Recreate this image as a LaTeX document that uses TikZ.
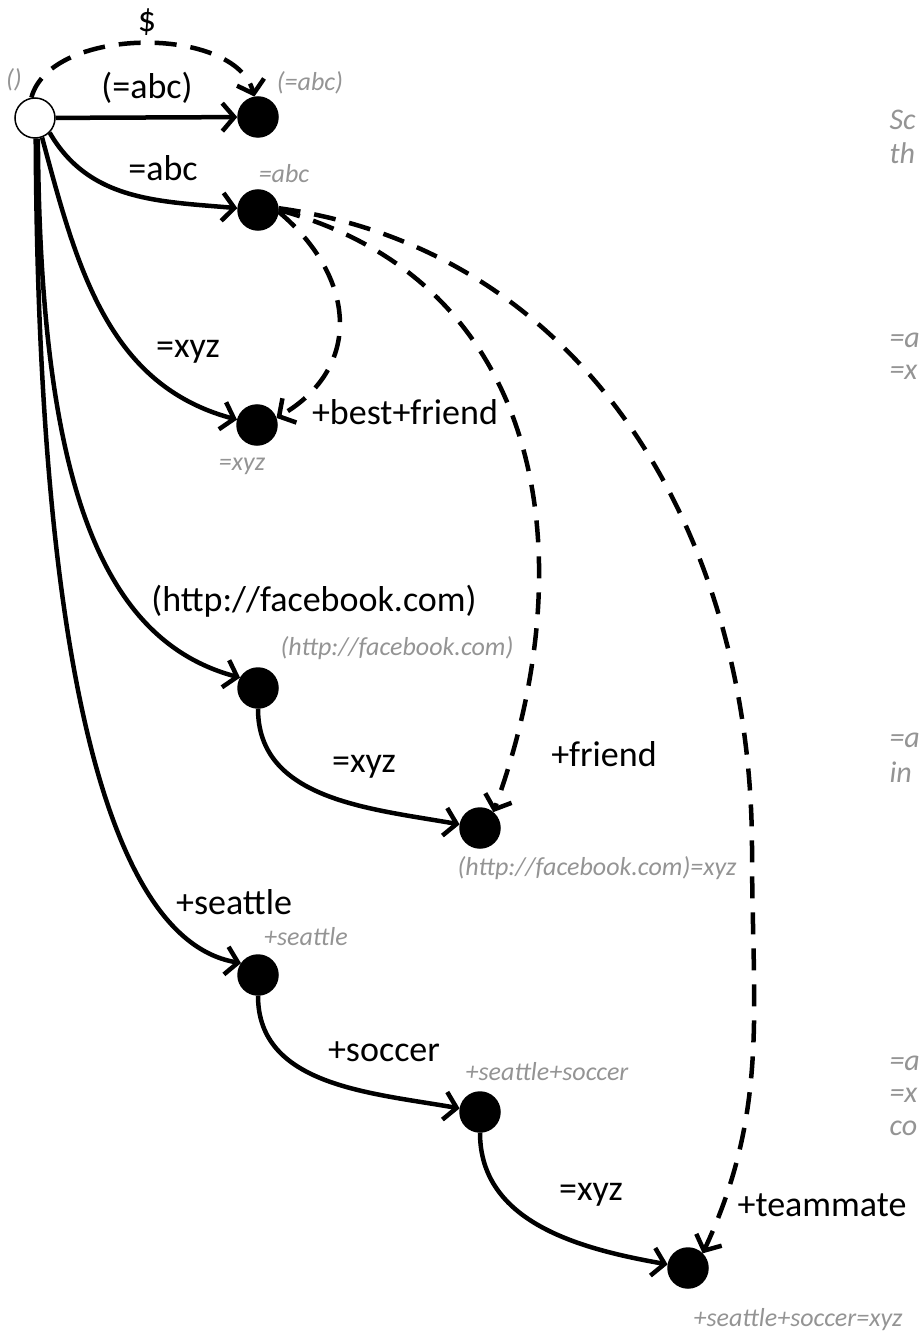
\documentclass[tikz,border=0pt]{standalone}
\usepackage{fontspec}
\setmainfont{Carlito}
\usetikzlibrary{arrows.meta}

\begin{document}
\begin{tikzpicture}[x=1pt, y=1pt,
        state/.style={circle, draw, line width=1.5pt, minimum size=40pt, inner sep=0pt, fill=white},
        full/.style={state, fill=black},
        edge/.style={line width=4.5pt, -{Straight Barb[length=12pt,width=28pt]}},
        link/.style={edge, dash pattern=on 22pt off 14pt},
        lbl/.style={font=\fontsize{36}{40}\selectfont},
        tag/.style={text=black!42, font=\fontsize{26}{30}\selectfont\itshape},
        note/.style={tag, anchor=west, font=\fontsize{30}{34}\selectfont\itshape}]
        \useasboundingbox (0,0) rectangle (922,-1337);

        % states
        \node[state] (root) at (35,-118) {};
        \node[full] (abcP) at (258,-117) {};
        \node[full] (abc) at (258,-210) {};
        \node[full] (xyz) at (257,-425) {};
        \node[full] (fb) at (258,-688) {};
        \node[full] (fbxyz) at (480,-828) {};
        \node[full] (sea) at (258,-975) {};
        \node[full] (seasoc) at (480,-1112) {};
        \node[full] (seasocxyz) at (688,-1268) {};
        \coordinate (bend) at (752,-850);

        % state names
        \node[tag] (tRoot) at (14,-80) {()};
        \node[tag] (tAbcP) at (310,-83) {(=abc)};
        \node[tag] (tAbc) at (284,-174) {=abc};
        \node[tag] (tXyz) at (242,-466) {=xyz};
        \node[tag] (tFb) at (397,-648) {(http://facebook.com)};
        \node[tag] (tFbxyz) at (597,-868) {(http://facebook.com)=xyz};
        \node[tag] (tSea) at (306,-937) {+seattle};
        \node[tag] (tSeasoc) at (547,-1072) {+seattle+soccer};
        \node[tag] (tSeasocxyz) at (798,-1320) {+seattle+soccer=xyz};

        % solid edges
        \draw[edge] (root) -- (abcP);
        \draw[edge] (root.-45) to[out=-60, in=175] (abc.175);
        \draw[edge] (root.-70) to[out=-75, in=165] (xyz.165);
        \draw[edge] (root.-82) .. controls (40,-480) and (100,-640) .. (fb.150);
        \draw[edge] (root.-88) .. controls (38,-650) and (105,-940) .. (sea.145);
        \draw[edge] (fb.-90) to[out=-90, in=170] (fbxyz.170);
        \draw[edge] (sea.-90) to[out=-90, in=170] (seasoc.170);
        \draw[edge] (seasoc.-90) to[out=-90, in=170] (seasocxyz.170);

        % dashed edges
        \draw[link] (root.100) to[out=75, in=105, looseness=0.85] (abcP.100);
        \draw[link] (abc.-5) to[out=-40, in=30, looseness=1.25] (xyz.20);
        \draw[link] (abc.0) to[out=-15, in=70, looseness=1.1] (fbxyz.50);
        \draw[link] (abc.5) to[out=-8, in=90] (bend) to[out=-90, in=65] (seasocxyz.45);

        % edge labels
        \node[lbl] (lDollar) at (147,-22) {\$};
        \node[lbl] (lAbcP) at (147,-88) {(=abc)};
        \node[lbl] (lAbc) at (163,-168) {=abc};
        \node[lbl] (lXyz) at (188,-352) {=xyz};
        \node[lbl] (lBest) at (405,-412) {+best+friend};
        \node[lbl] (lFb) at (314,-601) {(http://facebook.com)};
        \node[lbl] (lFbxyz) at (364,-767) {=xyz};
        \node[lbl] (lFriend) at (604,-754) {+friend};
        \node[lbl] (lSea) at (234,-902) {+seattle};
        \node[lbl] (lSoc) at (384,-1052) {+soccer};
        \node[lbl] (lSocxyz) at (591,-1195) {=xyz};
        \node[lbl] (lMate) at (822,-1205) {+teammate};

        % notes cut at the right edge
        \node[note] (n1a) at (886,-120) {Sc};
        \node[note] (n1b) at (886,-153) {th};
        \node[note] (n2a) at (886,-340) {=a};
        \node[note] (n2b) at (886,-372) {=x};
        \node[note] (n3a) at (886,-740) {=a};
        \node[note] (n3b) at (886,-772) {in};
        \node[note] (n4a) at (886,-1063) {=a};
        \node[note] (n4b) at (886,-1095) {=x};
        \node[note] (n4c) at (886,-1128) {co};
    \end{tikzpicture}
\end{document}
